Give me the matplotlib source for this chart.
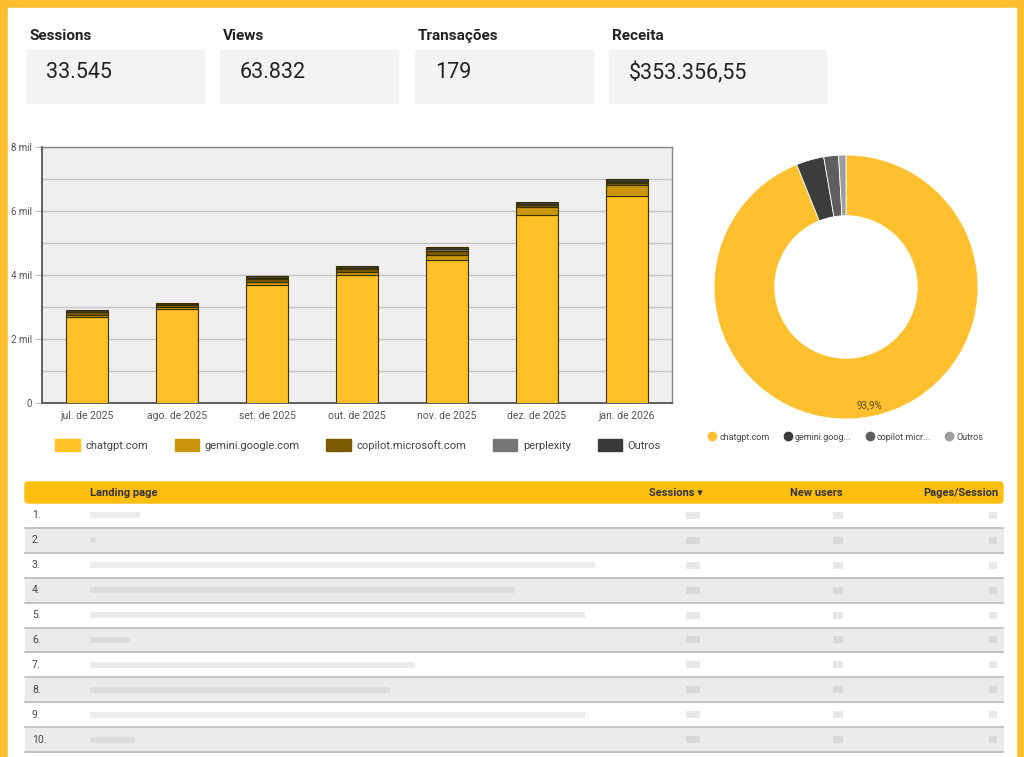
import numpy as np
import matplotlib.pyplot as plt
from matplotlib.patches import Rectangle, FancyBboxPatch
from matplotlib.lines import Line2D
from matplotlib.ticker import MultipleLocator, FixedLocator

plt.rcParams['font.family'] = ['Roboto', 'DejaVu Sans']

# KPI cards
kpi_labels = ["Sessions", "Views", "Transações", "Receita"]
kpi_values = ["33.545", "63.832", "179", "$353.356,55"]

# stacked bars: sessions per month by source
months = ["jul. de 2025", "ago. de 2025", "set. de 2025", "out. de 2025",
          "nov. de 2025", "dez. de 2025", "jan. de 2026"]
sources = ["chatgpt.com", "gemini.google.com", "copilot.microsoft.com", "perplexity", "Outros"]
chatgpt = [2680, 2940, 3700, 3990, 4470, 5890, 6480]
gemini = [80, 50, 90, 110, 160, 230, 340]
copilot = [70, 70, 90, 100, 130, 60, 60]
perplexity = [20, 20, 20, 30, 40, 30, 40]
outros = [60, 50, 60, 60, 70, 60, 70]
bar_colors = ["#FFC125", "#C9960C", "#7A5A00", "#777777", "#3A3A3A"]

# donut: share by source
pie_labels = ["chatgpt.com", "gemini.goog...", "copilot.micr...", "Outros"]
pie_values = [93.9, 3.4, 1.8, 0.9]
pie_colors = ["#FEC02E", "#3C3C3C", "#5E5E5E", "#9C9C9C"]

# table
table_cols = ["Landing page", "Sessions ▾", "New users", "Pages/Session"]
row_nums = [f"{i}." for i in range(1, 11)]
blur_page_len = [50, 6, 505, 425, 495, 40, 325, 300, 495, 45]  # blurred text widths

W, H = 1024, 757
fig = plt.figure(figsize=(W / 100, H / 100), dpi=100, facecolor="#FBBE2C")


def box(x0, y0, x1, y1):
    return fig.add_axes([x0 / W, 1 - y1 / H, (x1 - x0) / W, (y1 - y0) / H])


# background panel in pixel coords
bg = fig.add_axes([0, 0, 1, 1])
bg.set_xlim(0, W)
bg.set_ylim(H, 0)
bg.axis("off")
bg.add_patch(Rectangle((8, 8), W - 16, H, color="white", zorder=0))

# KPI cards
card_x = [(26, 204), (220, 398), (415, 593), (609, 826)]
for (x0, x1), lab, val in zip(card_x, kpi_labels, kpi_values):
    bg.add_patch(Rectangle((x0, 50), x1 - x0, 53, color="#F3F3F3", zorder=1))
    bg.text(x0 + 3, 36, lab, fontsize=11, fontweight="bold", color="#222222",
            va="center", ha="left")
    bg.text(x0 + 20, 73, val, fontsize=15.5, color="#222222", va="center", ha="left")

# stacked bar chart
ax = box(42, 147, 672, 403)
ax.set_facecolor("#EFEFEF")
x = np.arange(len(months))
bottom = np.zeros(len(months))
for name, vals, col in zip(sources, [chatgpt, gemini, copilot, perplexity, outros], bar_colors):
    ax.bar(x, vals, 0.47, bottom=bottom, color=col, edgecolor="#3a3000",
           linewidth=0.8, label=name, zorder=3)
    bottom += np.array(vals)
ax.set_xlim(-0.5, len(months) - 0.5)
ax.set_ylim(0, 8000)
ax.yaxis.set_major_locator(FixedLocator([0, 2000, 4000, 6000, 8000]))
ax.yaxis.set_minor_locator(MultipleLocator(1000))
ax.set_yticklabels(["0", "2 mil", "4 mil", "6 mil", "8 mil"])
ax.grid(axis="y", which="both", color="#C4C4C4", linewidth=1, zorder=0)
ax.set_xticks(x)
ax.set_xticklabels(months)
ax.tick_params(axis="y", which="major", length=5, color="#BBBBBB", labelsize=7, labelcolor="#555555", pad=2)
ax.tick_params(axis="y", which="minor", length=0)
ax.tick_params(axis="x", length=0, labelsize=7.5, labelcolor="#555555", pad=6)
for s in ["left", "bottom"]:
    ax.spines[s].set_color("#555555")
    ax.spines[s].set_linewidth(1.3)
for s in ["top", "right"]:
    ax.spines[s].set_color("#888888")
    ax.spines[s].set_linewidth(1)
h, l = ax.get_legend_handles_labels()
h = [Rectangle((0, 0), 1, 1, color=c) for c in bar_colors]
fig.legend(h, l, loc="center", bbox_to_anchor=(358 / W, 1 - 445 / H), ncol=5,
           frameon=False, fontsize=8, handlelength=2.2, handleheight=1.2,
           columnspacing=2.4, handletextpad=0.5, labelcolor="#444444")

# donut
cx, cy, r = 846, 287, 132
pad = 140
pax = box(cx - pad, cy - pad, cx + pad, cy + pad)
total = sum(pie_values)
pax.pie(pie_values, colors=pie_colors, startangle=90, counterclock=False,
        radius=1, wedgeprops=dict(width=0.46, edgecolor="white", linewidth=0.6),
        autopct=lambda p: (f"{p:.1f}%".replace(".", ",") if p > 50 else ""),
        pctdistance=0.91, textprops=dict(fontsize=7, color="#5a4a10"))
pax.set_xlim(-pad / r, pad / r)
pax.set_ylim(-pad / r, pad / r)
pax.set_aspect("equal")
pax.axis("off")
ph = [Line2D([], [], marker="o", linestyle="", markersize=6, color=c) for c in pie_colors]
fig.legend(ph, pie_labels, loc="center", bbox_to_anchor=(846 / W, 1 - 437 / H), ncol=4,
           frameon=False, fontsize=6.5, handlelength=0.8, handletextpad=0.4,
           columnspacing=1.6, labelcolor="#444444")

# table
bg.add_patch(FancyBboxPatch((25, 482), 978, 21, boxstyle="round,pad=0,rounding_size=3",
                            color="#FDBE10", zorder=1))
bg.text(90, 493, table_cols[0], fontsize=8, fontweight="bold", color="#333333", va="center")
bg.text(703, 493, table_cols[1], fontsize=8, fontweight="bold", color="#333333", va="center", ha="right")
bg.text(843, 493, table_cols[2], fontsize=8, fontweight="bold", color="#333333", va="center", ha="right")
bg.text(998, 493, table_cols[3], fontsize=8, fontweight="bold", color="#333333", va="center", ha="right")
row_h = 24.9
for i, (num, bl) in enumerate(zip(row_nums, blur_page_len)):
    y0 = 503 + i * row_h
    if i % 2 == 1:
        bg.add_patch(Rectangle((25, y0), 978, row_h, color="#EBEBEB", zorder=1))
    bg.plot([25, 1003], [y0 + row_h, y0 + row_h], color="#BDBDBD", lw=1.2, zorder=2)
    yc = y0 + row_h / 2
    bg.text(32, yc, num, fontsize=7.5, color="#444444", va="center")
    # blurred content placeholders
    bg.add_patch(Rectangle((90, yc - 3), bl, 6, color="#9a9a9a", alpha=0.18, zorder=2, lw=0))
    for xr, w in [(700, 14), (843, 10), (997, 8)]:
        bg.add_patch(Rectangle((xr - w, yc - 3.5), w, 7, color="#9a9a9a", alpha=0.22, zorder=2, lw=0))

fig.savefig("out.png", dpi=100, facecolor=fig.get_facecolor())
